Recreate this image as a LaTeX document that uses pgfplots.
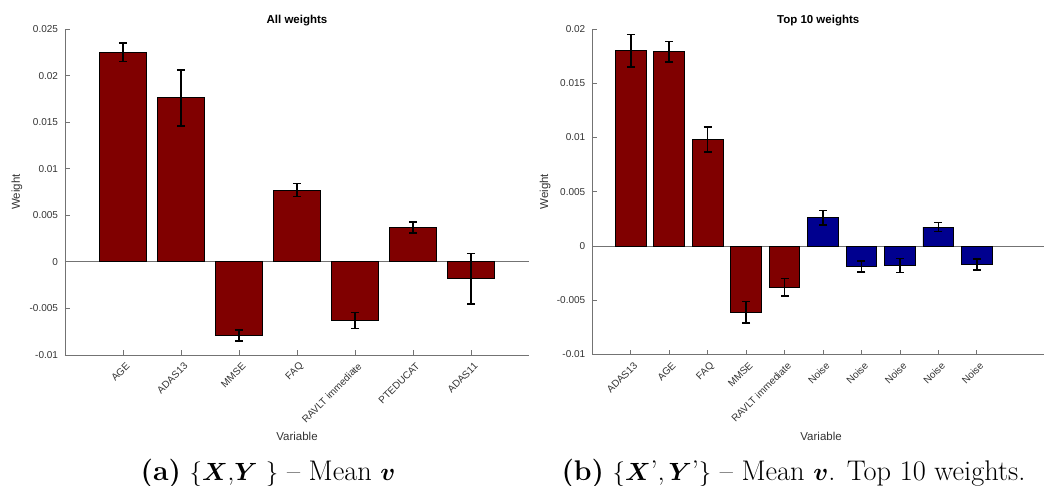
\documentclass[border=0pt]{standalone}
\usepackage{amsmath}
\usepackage{fontspec}
\usepackage{pgfplots}
\usepackage{pgfplotstable}
\pgfplotsset{compat=1.18}
\newfontfamily\arial{Liberation Sans}
\definecolor{jetred}{RGB}{128,0,0}
\definecolor{jetblue}{RGB}{0,0,143}
\definecolor{axgray}{gray}{0.45}
\definecolor{txtgray}{gray}{0.2}

% mean weight and its error, one row per variable
\pgfplotstableread{
x  y        e
1  0.0225   0.0010
2  0.0176   0.0030
3  -0.0079  0.0006
4  0.0077   0.0007
5  -0.0063  0.00085
6  0.0037   0.0006
7  -0.0018  0.0027
}\allweights

\pgfplotstableread{
x  y        e
1  0.0180   0.0015
2  0.0179   0.00095
3  0.0098   0.00115
4  -0.0061  0.0010
5  -0.0038  0.0008
}\topvars

\pgfplotstableread{
x  y        e
6  0.0026   0.00065
7  -0.0019  0.0005
8  -0.0018  0.00063
9  0.00175  0.0004
10 -0.0017  0.0005
}\topnoise

\pgfplotsset{
  weightbar/.style={
    ybar, bar width=0.8, bar shift=0pt, draw=black, line width=0.9pt,
    error bars/y dir=both, error bars/y explicit,
    error bars/error mark=-,
    error bars/error bar style={black, line width=1.5pt},
    error bars/error mark options={black, rotate=90, mark size=4pt, line width=1.5pt},
  },
  weightbars/.style={
    scale only axis,
    axis x line*=bottom,
    axis y line*=left,
    axis line style={-, axgray, line width=0.8pt},
    tick style={axgray, line width=0.8pt},
    tick align=inside,
    major tick length=5pt,
    xmin=0,
    ticklabel style={font=\arial\fontsize{10}{12}\selectfont, text=txtgray},
    yticklabel style={xshift=-3.5pt},
    xticklabel style={rotate=45, anchor=east, inner sep=1pt, xshift=-2.2pt, yshift=-10.2pt},
    label style={font=\arial\fontsize{11.5}{13}\selectfont, text=txtgray},
    every axis title shift=0pt,
    title style={font=\arial\bfseries\fontsize{11.5}{13}\selectfont, text=black,
                 at={(0.5,1)}, anchor=base, yshift=5.7pt},
    ylabel={Weight},
    xlabel={Variable},
    scaled y ticks=false,
    extra y ticks={0},
    extra y tick labels={},
    extra y tick style={grid=major, major grid style={axgray, line width=0.8pt}, major tick length=0pt},
  },
}

\begin{document}
\begin{tikzpicture}
\path[use as bounding box] (0pt,0pt) rectangle (1047pt,-486pt);

% (a) all weights
\begin{axis}[
  weightbars,
  at={(65pt,-355pt)}, anchor=south west,
  width=464pt, height=326pt,
  xmax=8,
  ymin=-0.01, ymax=0.025,
  xtick={1,...,7},
  ytick={-0.01,-0.005,0,0.005,0.01,0.015,0.02,0.025},
  yticklabels={-0.01,-0.005,0,0.005,0.01,0.015,0.02,0.025},
  xticklabels={AGE,ADAS13,MMSE,FAQ,RAVLT immediate,PTEDUCAT,ADAS11},
  title={All weights},
  xlabel style={at={(axis description cs:0.5,0)}, anchor=base, yshift=-85.7pt},
  ylabel style={at={(axis description cs:-0.097,0.5)}, anchor=base},
]
\addplot[weightbar, fill=jetred] table[x=x, y=y, y error=e] {\allweights};
\end{axis}

% (b) ten largest weights
\begin{axis}[
  weightbars,
  at={(592.3pt,-354.5pt)}, anchor=south west,
  width=451.8pt, height=325.5pt,
  xmax=11.75,
  ymin=-0.01, ymax=0.02,
  ytick={-0.01,-0.005,0,0.005,0.01,0.015,0.02},
  yticklabels={-0.01,-0.005,0,0.005,0.01,0.015,0.02},
  xtick={1,...,10},
  xticklabels={ADAS13,AGE,FAQ,MMSE,RAVLT immediate,Noise,Noise,Noise,Noise,Noise},
  title={Top 10 weights},
  xlabel style={at={(axis cs:5.95,-0.01)}, anchor=base, yshift=-86.2pt},
  ylabel style={at={(axis description cs:-0.098,0.5)}, anchor=base},
]
\addplot[weightbar, fill=jetred] table[x=x, y=y, y error=e] {\topvars};
\addplot[weightbar, fill=jetblue] table[x=x, y=y, y error=e] {\topnoise};
\end{axis}

\node[anchor=base, font=\fontsize{28.4}{32}\selectfont] at (268pt,-480pt)
  {\textbf{(a)} $\{\boldsymbol{X}{,}\boldsymbol{Y}\ \}$ -- Mean $\boldsymbol{v}$};
\node[anchor=base, font=\fontsize{28.4}{32}\selectfont] at (793.5pt,-480pt)
  {\textbf{(b)} $\{\boldsymbol{X}$'$,\boldsymbol{Y}$'$\}$ -- Mean $\boldsymbol{v}$. Top 10 weights.};
\end{tikzpicture}
\end{document}
